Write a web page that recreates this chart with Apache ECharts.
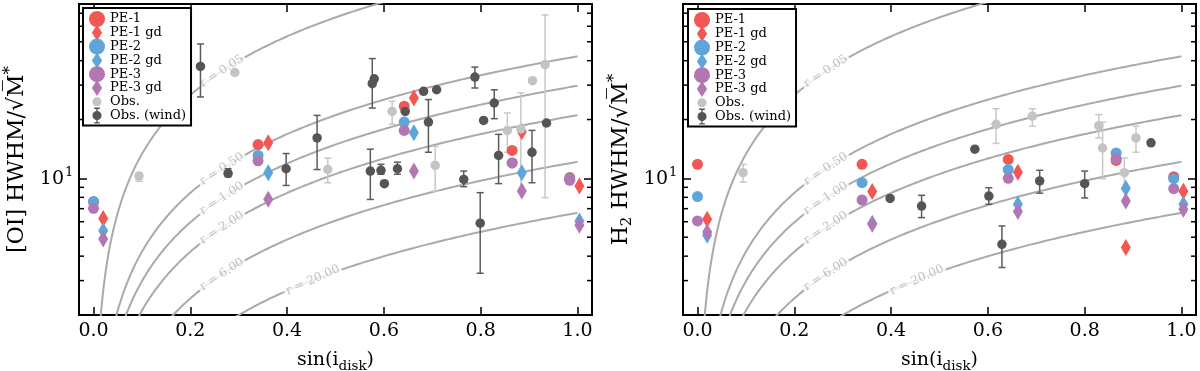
<!DOCTYPE html>
<html>
<head>
<meta charset="utf-8">
<script src="https://cdn.jsdelivr.net/npm/echarts@6/dist/echarts.min.js"></script>
<style>
  html, body { margin: 0; padding: 0; background: #fff; }
  #chart { width: 1200px; height: 371px; }
</style>
</head>
<body>
<div id="chart"></div>
<script>
// values: x = sin(i_disk), y = HWHM / sqrt(M*)
var sinPE = [0.0, 0.34, 0.642, 0.865, 0.984];   // model points (circles)
var sinGD = [0.02, 0.361, 0.662, 0.885, 1.004]; // model points with gas drag (diamonds)

// left panel, [OI]
var oiPE1 = [7.6, 14.9, 23.4, 13.9, 10.1];
var oiPE1gd = [6.23, 15.2, 25.8, 17.3, 9.14];
var oiPE2 = [7.61, 13.1, 19.4, 12.0, 9.9];
var oiPE2gd = [5.39, 10.7, 17.1, 10.7, 6.06];
var oiPE3 = [7.03, 12.3, 17.6, 12.0, 9.77];
var oiPE3gd = [4.89, 7.82, 10.9, 8.61, 5.76];

var oiObsSin = [0.094, 0.292, 0.484, 0.617, 0.706, 0.855, 0.883, 0.907, 0.933];
var oiObsVal = [10.27, 34.8, 11.1, 22.0, 11.65, 17.6, 17.9, 31.6, 38.2];
var oiObsLo  = [9.65, null, 9.5, 18.9, 8.6, 13.6, 8.5, null, 7.97];
var oiObsHi  = [10.7, null, 12.7, 24.8, 14.6, 21.6, 27.4, null, 68.6];

var oiWindSin = [0.221, 0.278, 0.398, 0.462, 0.576, 0.580, 0.572, 0.594, 0.601, 0.628, 0.644,
                 0.682, 0.709, 0.692, 0.765, 0.788, 0.806, 0.828, 0.837, 0.906, 0.936, 0.799];
var oiWindVal = [37.4, 10.6, 11.2, 16.1, 30.5, 32.3, 10.9, 11.0, 9.4, 11.2, 22.0,
                 27.9, 28.4, 19.4, 9.88, 33.0, 19.8, 24.3, 13.1, 13.6, 19.2, 5.9];
var oiWindLo  = [26.1, 10.2, 9.2, 11.1, 22.9, null, 7.8, 10.5, null, 10.5, null,
                 null, null, 13.6, 9.07, 29.0, null, 20.2, 9.4, 9.5, null, 3.27];
var oiWindHi  = [48.7, 11.2, 13.4, 21.0, 41.0, null, 14.1, 11.8, null, 12.1, null,
                 null, null, 25.3, 10.9, 37.1, null, 28.4, 16.8, 17.6, null, 8.45];

// right panel, H2
var h2PE1 = [11.8, 11.8, 12.5, 12.35, 10.2];
var h2PE1gd = [6.18, 8.56, 10.75, 4.43, 8.6];
var h2PE2 = [8.07, 9.51, 11.1, 13.5, 9.96];
var h2PE2gd = [5.12, 5.9, 7.37, 8.9, 7.37];
var h2PE3 = [6.06, 7.75, 10.0, 12.6, 8.86];
var h2PE3gd = [5.32, 5.83, 6.76, 7.66, 6.95];

var h2ObsSin = [0.094, 0.617, 0.692, 0.829, 0.837, 0.882, 0.906];
var h2ObsVal = [10.7, 18.9, 20.8, 18.6, 14.3, 10.7, 16.1];
var h2ObsLo  = [9.57, 15.1, 18.5, 16.1, 9.96, 8.8, 13.6];
var h2ObsHi  = [11.8, 22.7, 22.7, 21.2, 19.4, 12.7, 18.5];

var h2WindSin = [0.398, 0.463, 0.573, 0.602, 0.629, 0.707, 0.800, 0.937];
var h2WindVal = [7.9, 7.22, 14.1, 8.12, 4.6, 9.7, 9.4, 15.2];
var h2WindLo  = [null, 6.3, null, 7.37, 3.5, 8.4, 7.94, null];
var h2WindHi  = [null, 8.19, null, 8.96, 5.71, 11.0, 10.9, null];

// keplerian curves v_K(r) * sin(i), v_K = 29.78 km/s at 1 au for 1 Msun
var vKep = 29.78;
var radii = [0.05, 0.5, 1, 2, 6, 20];
var radiusText = ['r = 0.05', 'r = 0.50', 'r = 1.00', 'r = 2.00', 'r = 6.00', 'r = 20.00'];
var radiusLabelSin = [0.265, 0.265, 0.265, 0.265, 0.265, 0.453];
var radiusLabelAngle = [33, 33, 33, 33, 33, 24];

var minorTickVals = [3, 4, 5, 6, 7, 8, 9, 20, 30, 40, 50, 60, 70];
var majorTickVals = [10];          // labelled as 10^1
var xTickLabels = ['0.0', '0.2', '0.4', '0.6', '0.8', '1.0'];

var X_MIN = -0.03, X_MAX = 1.03, Y_MIN = 2, Y_MAX = 78;
var SERIF = 'DejaVu Serif';
var cRed = '#F15854', cBlue = '#5DA5DA', cPurple = '#B276B2';
var cObs = '#C4C4C4', cWind = '#555555', cCurve = '#AAAAAA';

var diamondIcon = 'path://M4.5,0L9,7L4.5,14L0,7Z';
var dotIcon = 'path://M0,0M14,14M7,3A4,4,0,1,1,7,11A4,4,0,1,1,7,3Z';
var windIcon = 'path://M0,0M14,14M7,3A4,4,0,1,1,7,11A4,4,0,1,1,7,3Z' +
  'M6.4,0.5H7.6V13.5H6.4ZM4.5,0H9.5V1.2H4.5ZM4.5,12.8H9.5V14H4.5Z';

var curveSin = [];
for (var k = 1; k <= 500; k++) curveSin.push(k / 500);

function pairs(xs, ys) {
  return xs.map(function (x, i) { return [x, ys[i]]; });
}
function errRows(xs, ys, lo, hi) {
  var out = [];
  xs.forEach(function (x, i) {
    if (lo[i] != null) out.push([x, ys[i], lo[i], hi[i]]);
  });
  return out;
}

function errorBars(gi, name, rowsData, color) {
  return {
    type: 'custom', name: name, xAxisIndex: 2 * gi, yAxisIndex: 2 * gi, z: 3, silent: true,
    encode: { x: 0, y: 1 },
    data: rowsData,
    renderItem: function (params, api) {
      var x = api.value(0);
      var lo = api.coord([x, api.value(2)]);
      var hi = api.coord([x, api.value(3)]);
      var st = { stroke: color, lineWidth: 1.5 };
      return {
        type: 'group',
        children: [
          { type: 'line', shape: { x1: lo[0], y1: lo[1], x2: hi[0], y2: hi[1] }, style: st },
          { type: 'line', shape: { x1: lo[0] - 3.5, y1: lo[1], x2: lo[0] + 3.5, y2: lo[1] }, style: st },
          { type: 'line', shape: { x1: hi[0] - 3.5, y1: hi[1], x2: hi[0] + 3.5, y2: hi[1] }, style: st }
        ]
      };
    }
  };
}

function scatter(gi, name, data, color, symbol, size) {
  return {
    type: 'scatter', name: name, xAxisIndex: 2 * gi, yAxisIndex: 2 * gi, z: 3,
    data: data, symbol: symbol, symbolSize: size,
    itemStyle: { color: color, opacity: 1 }
  };
}

function panelSeries(gi, pe, obs, wind) {
  var list = [];
  radii.forEach(function (r) {
    list.push({
      type: 'line', xAxisIndex: 2 * gi, yAxisIndex: 2 * gi, z: 2, silent: true,
      showSymbol: false, symbol: 'none', clip: true,
      lineStyle: { color: cCurve, width: 2 },
      data: curveSin.map(function (s) { return [s, vKep * s / Math.sqrt(r)]; })
    });
  });
  list.push({
    type: 'scatter', name: 'curve labels', xAxisIndex: 2 * gi, yAxisIndex: 2 * gi, z: 2, silent: true,
    symbolSize: 1, itemStyle: { color: 'transparent' },
    label: {
      show: true, position: 'inside', fontFamily: SERIF, fontSize: 12, color: '#B0B0B0',
      backgroundColor: '#fff', padding: [0, 2]
    },
    data: radii.map(function (r, i) {
      var s = radiusLabelSin[i];
      return {
        value: [s, vKep * s / Math.sqrt(r)],
        label: { rotate: radiusLabelAngle[i], formatter: radiusText[i] }
      };
    })
  });
  // minor ticks of the log axis, on both sides of the frame
  list.push({
    type: 'custom', name: 'minor ticks', xAxisIndex: 2 * gi, yAxisIndex: 2 * gi, z: 4, silent: true,
    encode: { x: 0, y: 1 },
    data: minorTickVals.map(function (v) { return [0.5, v]; }),
    renderItem: function (params, api) {
      var v = api.value(1);
      var a = api.coord([X_MIN, v]);
      var b = api.coord([X_MAX, v]);
      var st = { stroke: '#000', lineWidth: 1.5 };
      return {
        type: 'group',
        children: [
          { type: 'line', shape: { x1: a[0], y1: a[1], x2: a[0] + 5, y2: a[1] }, style: st },
          { type: 'line', shape: { x1: b[0] - 5, y1: b[1], x2: b[0], y2: b[1] }, style: st }
        ]
      };
    }
  });
  // "10^1" tick label, mantissa and exponent as two texts
  list.push({
    type: 'custom', name: 'tick labels', xAxisIndex: 2 * gi, yAxisIndex: 2 * gi, z: 4, silent: true,
    clip: false, encode: { x: 0, y: 1 },
    data: majorTickVals.map(function (v) { return [X_MIN, v]; }),
    renderItem: function (params, api) {
      var p = api.coord([X_MIN, api.value(1)]);
      var exp = String(Math.round(Math.log(api.value(1)) / Math.LN10));
      return {
        type: 'group',
        children: [
          { type: 'text', x: p[0] - 15, y: p[1] + 1,
            style: { text: '10', font: '19px "DejaVu Serif"', fill: '#000', align: 'right', verticalAlign: 'middle' } },
          { type: 'text', x: p[0] - 14, y: p[1] - 6,
            style: { text: exp, font: '13px "DejaVu Serif"', fill: '#000', align: 'left', verticalAlign: 'middle' } }
        ]
      };
    }
  });
  list.push(scatter(gi, 'PE-1', pairs(sinPE, pe[0]), cRed, 'circle', 11));
  list.push(scatter(gi, 'PE-1 gd', pairs(sinGD, pe[1]), cRed, 'diamond', [10, 17]));
  list.push(scatter(gi, 'PE-2', pairs(sinPE, pe[2]), cBlue, 'circle', 11));
  list.push(scatter(gi, 'PE-2 gd', pairs(sinGD, pe[3]), cBlue, 'diamond', [10, 17]));
  list.push(scatter(gi, 'PE-3', pairs(sinPE, pe[4]), cPurple, 'circle', 11));
  list.push(scatter(gi, 'PE-3 gd', pairs(sinGD, pe[5]), cPurple, 'diamond', [10, 17]));
  list.push(errorBars(gi, 'obs err', errRows(obs[0], obs[1], obs[2], obs[3]), '#C8C8C8'));
  list.push(scatter(gi, 'Obs.', pairs(obs[0], obs[1]), cObs, 'circle', 9.5));
  list.push(errorBars(gi, 'wind err', errRows(wind[0], wind[1], wind[2], wind[3]), '#5C5C5C'));
  list.push(scatter(gi, 'Obs. (wind)', pairs(wind[0], wind[1]), cWind, 'circle', 9.5));
  return list;
}

var titleRich = {
  t: { fontFamily: SERIF, fontSize: 19, color: '#000', verticalAlign: 'middle' },
  sub: { fontFamily: SERIF, fontSize: 13.5, color: '#000', verticalAlign: 'middle', padding: [11, 0, 0, 0] }
};
var yTitleRich = {
  t: { fontFamily: SERIF, fontSize: 22, color: '#000', verticalAlign: 'middle' },
  sub: { fontFamily: SERIF, fontSize: 15, color: '#000', verticalAlign: 'middle', padding: [12, 0, 0, 0] },
  sup: { fontFamily: SERIF, fontSize: 17, color: '#000', verticalAlign: 'middle', padding: [0, 0, 13, 0] }
};

function xAxes(gi) {
  return [{
    type: 'value', gridIndex: gi, min: X_MIN, max: X_MAX, splitNumber: 5, position: 'bottom',
    axisLine: { show: false, onZero: false }, splitLine: { show: false },
    axisTick: { inside: true, length: 8, lineStyle: { color: '#000', width: 1.5 } },
    axisLabel: {
      fontFamily: SERIF, fontSize: 19, color: '#000', margin: 7,
      formatter: function (v) {
        var i = Math.round(v / 0.2);
        return Math.abs(v - i * 0.2) < 1e-6 && xTickLabels[i] ? xTickLabels[i] : '';
      }
    },
    name: '{t|sin(i}{sub|disk}{t|)}', nameLocation: 'middle', nameGap: 33,
    nameTextStyle: { rich: titleRich }
  }, {
    type: 'value', gridIndex: gi, min: X_MIN, max: X_MAX, splitNumber: 5, position: 'top',
    axisLine: { show: false, onZero: false }, splitLine: { show: false }, axisLabel: { show: false },
    axisTick: { inside: true, length: 8, lineStyle: { color: '#000', width: 1.5 } }
  }];
}

function yAxes(gi, title) {
  return [{
    type: 'log', logBase: 10, gridIndex: gi, min: Y_MIN, max: Y_MAX, position: 'left',
    axisLine: { show: false, onZero: false }, splitLine: { show: false }, minorTick: { show: false },
    axisTick: { inside: true, length: 8, lineStyle: { color: '#000', width: 1.5 } },
    axisLabel: { show: false },
    name: title, nameLocation: 'middle', nameRotate: 90, nameGap: 47,
    nameTextStyle: { rich: yTitleRich }
  }, {
    type: 'log', logBase: 10, gridIndex: gi, min: Y_MIN, max: Y_MAX, position: 'right',
    axisLine: { show: false, onZero: false }, splitLine: { show: false }, minorTick: { show: false },
    axisLabel: { show: false },
    axisTick: { inside: true, length: 8, lineStyle: { color: '#000', width: 1.5 } }
  }];
}

function legendAt(left, top) {
  return {
    orient: 'vertical', left: left, top: top, selectedMode: false,
    itemWidth: 16, itemHeight: 16, itemGap: -2.2, padding: [3, 5, 2, 6],
    backgroundColor: '#fff', borderColor: '#000', borderWidth: 2, borderRadius: 0,
    textStyle: { fontFamily: SERIF, fontSize: 13, color: '#000' },
    data: [
      { name: 'PE-1', icon: 'circle' },
      { name: 'PE-1 gd', icon: diamondIcon },
      { name: 'PE-2', icon: 'circle' },
      { name: 'PE-2 gd', icon: diamondIcon },
      { name: 'PE-3', icon: 'circle' },
      { name: 'PE-3 gd', icon: diamondIcon },
      { name: 'Obs.', icon: dotIcon },
      { name: 'Obs. (wind)', icon: windIcon }
    ]
  };
}

function gridAt(left) {
  return {
    left: left, top: 4, width: 513, height: 311, containLabel: false, outerBoundsMode: 'none',
    show: true, borderColor: '#000', borderWidth: 2, backgroundColor: 'transparent'
  };
}

var chart = echarts.init(document.getElementById('chart'), null, { renderer: 'canvas' });
chart.setOption({
  animation: false,
  backgroundColor: '#fff',
  grid: [gridAt(79), gridAt(683)],
  legend: [legendAt(83, 8), legendAt(688, 9)],
  xAxis: xAxes(0).concat(xAxes(1)),
  yAxis: yAxes(0, '{t|[OI] HWHM/\u221AM\u0305}{sup|*}').concat(yAxes(1, '{t|H}{sub|2}{t| HWHM/\u221AM\u0305}{sup|*}')),
  series: panelSeries(0,
      [oiPE1, oiPE1gd, oiPE2, oiPE2gd, oiPE3, oiPE3gd],
      [oiObsSin, oiObsVal, oiObsLo, oiObsHi],
      [oiWindSin, oiWindVal, oiWindLo, oiWindHi])
    .concat(panelSeries(1,
      [h2PE1, h2PE1gd, h2PE2, h2PE2gd, h2PE3, h2PE3gd],
      [h2ObsSin, h2ObsVal, h2ObsLo, h2ObsHi],
      [h2WindSin, h2WindVal, h2WindLo, h2WindHi]))
});
</script>
</body>
</html>
